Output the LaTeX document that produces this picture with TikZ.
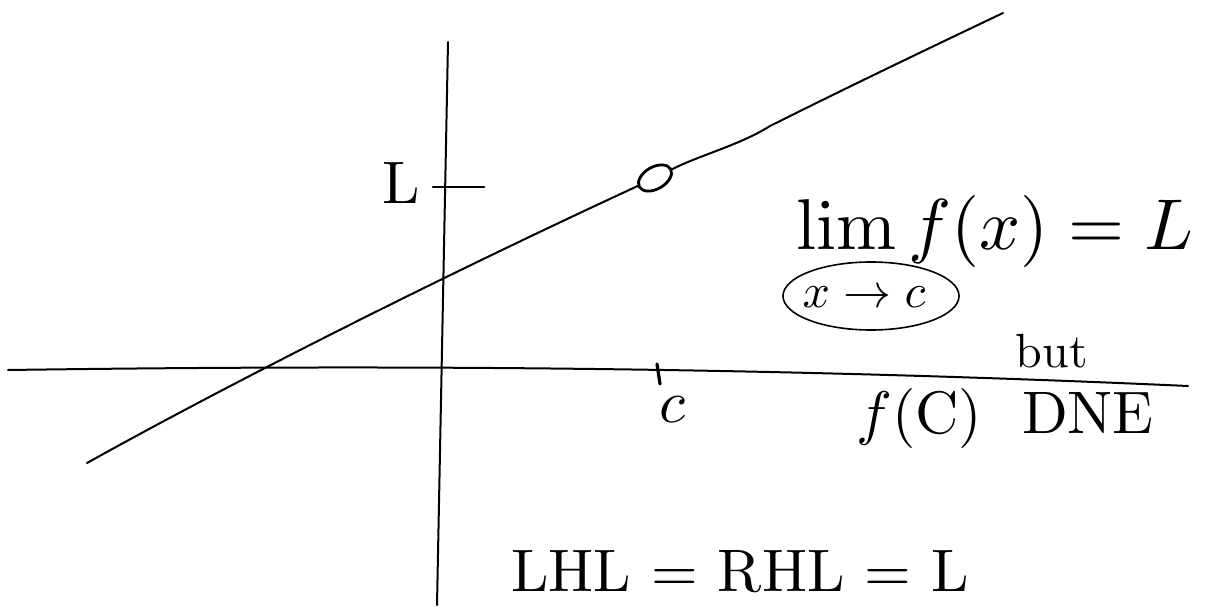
\documentclass[tikz,border=0pt]{standalone}
\usepackage{amsmath}
\usetikzlibrary{shapes.geometric}
\tikzset{
  pen/.style={line width=1pt,line cap=round},
  hand/.style={inner sep=0pt,scale=3},
  small/.style={inner sep=0pt,scale=2.4}
}

\begin{document}
\begin{tikzpicture}[x=0.5pt,y=-0.5pt]
  \useasboundingbox (0,0) rectangle (1220,609);
  % axes
  \coordinate (xl) at (8,370);
  \coordinate (xr) at (1188,386);
  \coordinate (yt) at (448,42);
  \coordinate (yb) at (437,605);
  \draw[pen] (xl) .. controls (300,366) and (700,364) .. (xr);
  \draw[pen] (yt) -- (yb);
  % ticks and their labels
  \coordinate (ltickl) at (433,187);
  \coordinate (ltickr) at (484,187);
  \draw[pen,line width=1.3pt] (ltickl) -- (ltickr);
  \node[hand] (lval) at (401,183) {L};
  \coordinate (ctickt) at (657,364);
  \coordinate (ctickb) at (660,384);
  \draw[pen,line width=1.6pt] (ctickt) -- (ctickb);
  \node[hand] (cval) at (672,410) {$c$};
  % the graph with its hole
  \coordinate (lend) at (87,463);
  \coordinate (rend) at (1003,13);
  \node[draw,ellipse,line width=1.4pt,minimum width=18pt,minimum height=11pt,
    inner sep=0pt,rotate=30] (hole) at (655,178) {};
  \draw[pen] (lend) .. controls (200,400) and (400,296) .. (hole);
  \draw[pen] (hole) .. controls (700,155) and (740,145) .. (770,126)
    .. controls (830,96) and (900,62) .. (rend);
  % the limit
  \node[hand,scale=1.2] (limit) at (995,232) {$\lim f(x) = L$};
  \node[small] (approach) at (864,297) {$x\to c$};
  \draw[line width=0.8pt] (871,296) ellipse [x radius=44pt,y radius=17pt];
  \node[small] (but) at (1052,351) {but};
  \node[hand] (dne) at (1005,418) {$f$(C)\ \ DNE};
  \node[hand] (sides) at (740,572) {LHL = RHL = L};
\end{tikzpicture}
\end{document}
